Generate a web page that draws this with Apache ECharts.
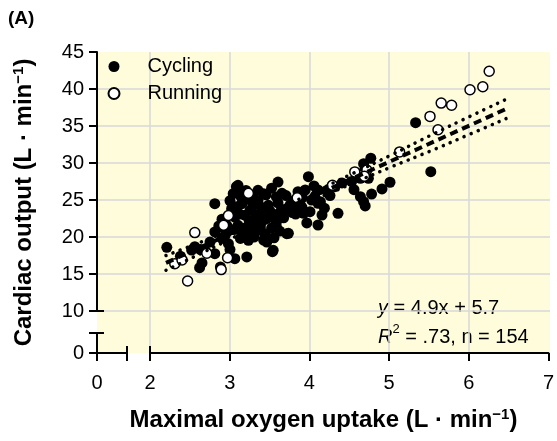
<!DOCTYPE html>
<html><head><meta charset="utf-8">
<script src="https://cdn.jsdelivr.net/npm/echarts@6/dist/echarts.min.js"></script>
<style>html,body{margin:0;padding:0;background:#fff}#c{width:557px;height:441px}</style>
</head><body><div id="c"></div>
<script>
// Cycling (filled) points: [VO2max L/min, cardiac output L/min]
const cycling = [
 [3.10,26.99],[3.08,26.08],[3.04,25.85],[3.35,26.31],[3.42,25.85],[3.60,27.43],[3.58,25.41],[2.81,24.50],
 [3.02,23.82],[3.15,24.50],[3.29,24.28],[3.48,24.28],[3.63,23.38],[3.06,22.70],[3.19,22.93],[3.33,22.93],
 [3.46,22.47],[3.58,22.03],[2.96,21.58],[3.10,21.58],[3.23,21.35],[3.38,21.35],[3.71,20.45],[2.81,20.68],
 [2.94,20.23],[3.15,20.23],[3.23,19.55],[3.44,20.45],[3.46,19.32],[2.75,19.32],[2.98,19.09],[2.69,18.20],
 [2.81,17.74],[3.06,17.07],[3.21,17.30],[3.54,18.20],[2.65,16.50],[2.88,15.95],[3.98,28.15],[4.76,30.64],
 [4.67,29.90],[4.73,27.93],[4.63,27.93],[4.52,27.50],[4.40,27.30],[4.31,26.80],[4.21,26.30],[4.10,26.35],
 [3.94,26.35],[3.85,26.12],[3.75,24.32],[3.88,24.32],[4.02,25.00],[4.10,24.55],[4.00,23.42],[3.92,23.20],
 [4.06,25.45],[3.96,21.90],[4.15,22.97],[4.10,21.62],[4.35,23.20],[3.73,20.50],[5.32,35.45],[5.51,28.82],
 [5.00,27.40],[4.90,26.50],[4.77,25.80],[4.63,25.45],[4.67,24.77],[4.69,24.20],[4.13,24.77],[3.53,18.01],
 [3.58,21.39],[3.42,19.59],[3.21,20.27],[2.21,18.60],[2.62,15.85],[2.94,20.95],[2.52,18.24],[2.56,18.69],
 [2.38,17.40],[2.63,18.30],[3.08,26.80],
 [3.12,23.10],[3.25,23.60],[3.38,23.00],[3.30,21.90],[3.18,21.00],[3.40,22.10],[3.52,21.20],[3.27,20.70],
 [3.05,21.00],[3.35,24.90],[3.22,25.10],[3.50,23.50],[3.60,24.60],[3.67,22.60],[3.13,19.80],[3.30,20.00],
 [3.55,19.90],[2.90,22.40],[2.86,21.50],[3.00,24.90],[3.45,25.70],[3.70,23.80],[3.80,24.90],[3.90,25.30],
 [4.05,26.90],[4.25,25.60],[4.55,26.40],[3.82,23.10],[3.65,25.90],[3.20,26.30],
 [3.14,25.40],[3.28,25.60],[3.52,26.60],[3.40,24.00],[3.56,23.00],[3.08,24.10],[3.24,22.20],[3.36,20.90],
 [2.90,19.80],[3.00,18.30],[3.62,20.80],[3.78,23.30],[3.90,24.00],[4.18,23.90],[3.70,25.60]
];
// Running (open) points
const running = [
 [6.24,42.4],[6.16,40.3],[6.00,39.9],[5.64,38.1],[5.77,37.8],[5.50,36.3],[5.60,34.5],[5.12,31.5],
 [4.56,28.8],[4.71,29.05],[4.68,28.2],[4.28,27.0],[3.23,25.9],[3.84,25.3],[2.56,20.6],[2.31,16.4],
 [2.40,16.9],[2.47,14.05],[2.71,17.8],[2.89,15.6],[2.97,17.2],[2.92,21.6],[2.98,22.9]
];
// Regression line and confidence band
const fitLine = [[2.2,16.5],[6.45,37.3]];
const ciUpper = [[2.2,17.5],[3.0,20.9],[3.5,23.3],[4.0,25.8],[4.5,28.4],[5.0,31.0],[5.5,33.7],[6.0,36.3],[6.45,38.6]];
const ciLower = [[2.2,15.5],[3.0,19.7],[3.5,22.4],[4.0,24.8],[4.5,27.1],[5.0,29.4],[5.5,31.6],[6.0,33.9],[6.45,36.0]];
const seriesNames = ['Cycling','Running'];
const xTitle = '{b|Maximal oxygen uptake (L · min}{s|−1}{b|)}';
const yTitle = '{b|Cardiac output (L · min}{s|−1}{b|)}';
const equationText = '{i|y} = 4.9x + 5.7\n{i|R}{s|2} = .73, n = 154';

const FONT = 'Liberation Sans, Arial, sans-serif';
const BLACK = '#000';
const axisLineStyle = {onZero:false, lineStyle:{color:BLACK, width:2}};
const tickStyle = {color:BLACK, width:2};
const labelStyle = {color:BLACK, fontSize:20, fontFamily:FONT};
const gridLine = {color:'#d9d9d9', width:1.5};
const titleStyle = {
  color:BLACK, fontFamily:FONT, fontWeight:'bold', fontSize:24,
  rich:{
    b:{color:BLACK, fontFamily:FONT, fontWeight:'bold', fontSize:24, lineHeight:26},
    s:{color:BLACK, fontFamily:FONT, fontWeight:'bold', fontSize:15, lineHeight:15, verticalAlign:'top'}
  }
};
const off = {axisLine:{show:false, onZero:false}, axisTick:{show:false}, axisLabel:{show:false}, splitLine:{show:false}};

const chart = echarts.init(document.getElementById('c'));
chart.setOption({
  animation:false,
  backgroundColor:'#fff',
  grid:[
    {left:97, top:52, width:453, height:301, show:true, backgroundColor:'#FEFCDA', borderWidth:0},
    {left:97, top:52, width:453, height:259},
    {left:150, top:52, width:400, height:301},
    {left:150, top:52, width:400, height:259},
    {left:97, top:333, width:30, height:20},
    {left:97, top:52, width:30, height:301}
  ],
  xAxis:[
    Object.assign({gridIndex:0, type:'value', min:0, max:1, name:xTitle, nameLocation:'middle', nameGap:54, nameTextStyle:titleStyle}, off),
    {gridIndex:1, type:'value', min:0, max:1, show:false},
    {gridIndex:2, type:'value', position:'bottom', min:2, max:7, interval:1,
      axisLine:axisLineStyle, axisTick:{length:8, lineStyle:tickStyle},
      axisLabel:Object.assign({margin:20}, labelStyle),
      splitLine:{show:true, showMaxLine:false, lineStyle:gridLine}},
    {gridIndex:2, type:'value', position:'bottom', min:2, max:7, interval:1,
      axisLine:{show:false, onZero:false}, axisTick:{inside:true, length:7, customValues:[2], lineStyle:tickStyle},
      axisLabel:{show:false}, splitLine:{show:false}},
    {gridIndex:3, type:'value', min:2, max:7, show:false},
    {gridIndex:4, type:'value', min:0, max:1, show:false},
    {gridIndex:5, type:'value', position:'bottom', min:0, max:1, interval:1,
      axisLine:axisLineStyle, axisTick:{length:8, lineStyle:tickStyle},
      axisLabel:Object.assign({margin:20, formatter:v => v === 0 ? '0' : ''}, labelStyle),
      splitLine:{show:false}},
    {gridIndex:5, type:'value', position:'bottom', min:0, max:1, interval:1,
      axisLine:{show:false, onZero:false}, axisTick:{inside:true, length:7, lineStyle:tickStyle},
      axisLabel:{show:false}, splitLine:{show:false}}
  ],
  yAxis:[
    Object.assign({gridIndex:0, type:'value', min:0, max:1, name:yTitle, nameLocation:'middle', nameGap:60, nameTextStyle:titleStyle}, off),
    {gridIndex:1, type:'value', position:'left', min:10, max:45, interval:5,
      axisLine:axisLineStyle, axisTick:{length:8, lineStyle:tickStyle},
      axisLabel:Object.assign({margin:13}, labelStyle),
      splitLine:{show:true, showMaxLine:false, lineStyle:gridLine}},
    {gridIndex:1, type:'value', position:'left', min:10, max:45, interval:5,
      axisLine:{show:false, onZero:false}, axisTick:{inside:true, length:7, customValues:[10], lineStyle:tickStyle},
      axisLabel:{show:false}, splitLine:{show:false}},
    {gridIndex:2, type:'value', min:0, max:1, show:false},
    {gridIndex:3, type:'value', min:10, max:45, show:false},
    {gridIndex:4, type:'value', position:'left', min:0, max:1, interval:1,
      axisLine:axisLineStyle, axisTick:{length:8, lineStyle:tickStyle},
      axisLabel:Object.assign({margin:13, formatter:v => v === 0 ? '0' : ''}, labelStyle),
      splitLine:{show:false}},
    {gridIndex:4, type:'value', position:'left', min:0, max:1, interval:1,
      axisLine:{show:false, onZero:false}, axisTick:{inside:true, length:7, lineStyle:tickStyle},
      axisLabel:{show:false}, splitLine:{show:false}},
    {gridIndex:5, type:'value', min:0, max:1, show:false}
  ],
  legend:{
    data:seriesNames, orient:'vertical', left:107.5, top:56.5, padding:0,
    itemWidth:11, itemHeight:11, itemGap:7,
    textStyle:{color:BLACK, fontSize:20, fontFamily:FONT, lineHeight:20, padding:[0,0,0,23]}
  },
  graphic:[
    {type:'text', left:8, top:9, style:{text:'(A)', fill:BLACK, font:'bold 19px ' + FONT}},
    {type:'text', left:378, top:294, style:{
      text:equationText, fill:BLACK, fontSize:20, fontFamily:FONT, lineHeight:29,
      rich:{
        i:{fontStyle:'italic', fontSize:20, fontFamily:FONT, lineHeight:29, fill:BLACK},
        s:{fontSize:13, fontFamily:FONT, lineHeight:15, verticalAlign:'top', fill:BLACK}
      }}}
  ],
  series:[
    {name:seriesNames[0], type:'scatter', xAxisIndex:4, yAxisIndex:4, data:cycling,
      symbol:'circle', symbolSize:11, itemStyle:{color:BLACK, opacity:1}, z:2},
    {name:seriesNames[1], type:'scatter', xAxisIndex:4, yAxisIndex:4, data:running,
      symbol:'circle', symbolSize:10, itemStyle:{color:'#fff', borderColor:BLACK, borderWidth:1.5, opacity:1}, z:3},
    {name:'fit', type:'line', xAxisIndex:4, yAxisIndex:4, data:fitLine, symbol:'none', silent:true,
      lineStyle:{color:BLACK, width:4, type:[8,5]}, z:5},
    {name:'upper', type:'line', xAxisIndex:4, yAxisIndex:4, data:ciUpper, symbol:'none', smooth:true, silent:true,
      lineStyle:{color:BLACK, width:3.5, type:[0.1,7.5], cap:'round'}, z:4},
    {name:'lower', type:'line', xAxisIndex:4, yAxisIndex:4, data:ciLower, symbol:'none', smooth:true, silent:true,
      lineStyle:{color:BLACK, width:3.5, type:[0.1,7.5], cap:'round'}, z:4}
  ]
});
</script></body></html>
